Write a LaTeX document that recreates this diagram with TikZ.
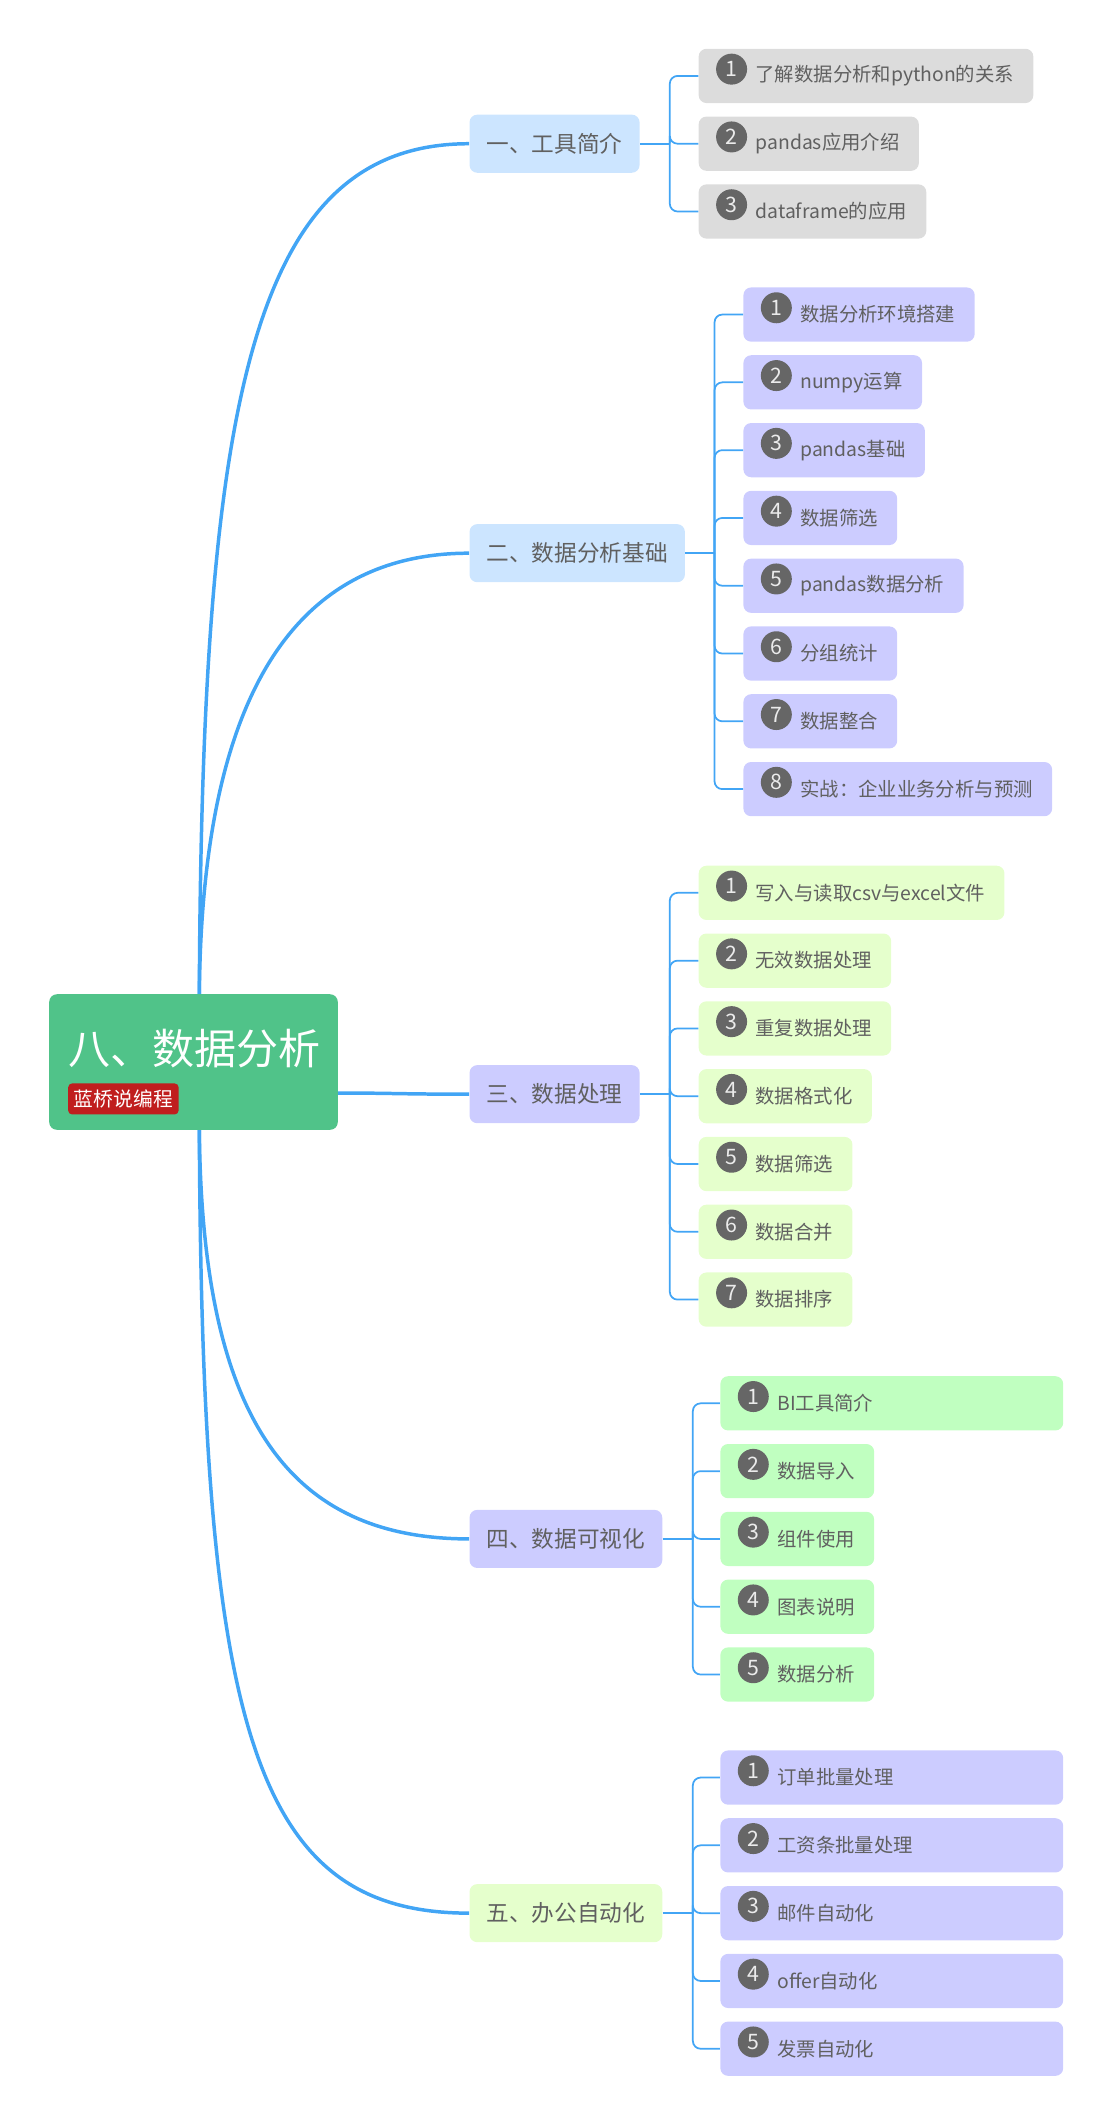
\documentclass[tikz,border=0pt]{standalone}
\usepackage{fontspec}
\setmainfont{Noto Sans CJK SC}
\usepackage{xcolor}
\usepackage{tikz}

\definecolor{linkblue}{RGB}{66,165,245}
\definecolor{rootgreen}{RGB}{80,195,137}
\definecolor{tagred}{RGB}{192,30,30}
\definecolor{txtgray}{RGB}{96,96,96}
\definecolor{numgray}{RGB}{102,102,102}
\definecolor{skyfill}{RGB}{204,229,255}
\definecolor{lilacfill}{RGB}{204,204,255}
\definecolor{limefill}{RGB}{229,255,204}
\definecolor{mintfill}{RGB}{192,255,192}
\definecolor{greyfill}{RGB}{220,220,220}

\begin{document}
\begin{tikzpicture}[
    x=0.7pt, y=-0.7pt,
    trunk/.style={draw=linkblue, line width=1.8pt},
    twig/.style={draw=linkblue, line width=0.9pt, rounded corners=4pt},
    branch/.style={rounded corners=4pt, anchor=west, minimum height=30pt, inner xsep=8.8pt, text=txtgray, font=\fontsize{11.7}{14}\selectfont},
    leaf/.style={rounded corners=4pt, anchor=west, minimum height=28pt, inner xsep=10pt, text=txtgray, font=\fontsize{10}{12}\selectfont, execute at begin node={\hspace*{19.4pt}}},
    wide/.style={text width=157pt, align=left},
    num/.style={circle, fill=numgray, text=white!92!black, inner sep=0pt, minimum size=16pt, font=\fontsize{11}{13}\selectfont},
]
\useasboundingbox (0,0) rectangle (820,1568);

% Root
\node[fill=rootgreen, rounded corners=4pt, anchor=north west, minimum width=149pt, minimum height=70pt] (root) at (36,733) {};
\node[anchor=west, text=white, inner sep=0pt, font=\fontsize{21.7}{26}\selectfont] (title) at (50,773) {八、数据分析};
\node[fill=tagred, rounded corners=2pt, anchor=west, text=white, inner xsep=3pt, inner ysep=0pt, minimum height=16pt, font=\fontsize{10.2}{12}\selectfont] (tag) at (50,810.5) {蓝桥说编程};

% Branches
\node[branch, fill=skyfill] (tools) at (346,106) {一、工具简介};
\node[branch, fill=skyfill] (basics) at (346,408) {二、数据分析基础};
\node[branch, fill=lilacfill] (clean) at (346,807) {三、数据处理};
\node[branch, fill=lilacfill] (visual) at (346,1135) {四、数据可视化};
\node[branch, fill=limefill] (office) at (346,1411) {五、办公自动化};

% Root to branches
\draw[trunk] ([xshift=3pt]root.north) .. controls +(2,-440) and +(-160,0) .. (tools.west);
\draw[trunk] ([xshift=3pt]root.north) .. controls +(2,-210) and +(-135,0) .. (basics.west);
\draw[trunk] ([yshift=-16pt]root.east) .. controls +(40,0) and +(-50,0) .. (clean.west);
\draw[trunk] ([xshift=3pt]root.south) .. controls +(2,210) and +(-135,0) .. (visual.west);
\draw[trunk] ([xshift=3pt]root.south) .. controls +(2,440) and +(-160,0) .. (office.west);

% Tools leaves
\node[leaf, fill=greyfill] (t1) at (515,56) {了解数据分析和python的关系};
\node[leaf, fill=greyfill] (t2) at (515,106) {pandas应用介绍};
\node[leaf, fill=greyfill] (t3) at (515,156) {dataframe的应用};

% Basics leaves
\node[leaf, fill=lilacfill] (b1) at (548,232) {数据分析环境搭建};
\node[leaf, fill=lilacfill] (b2) at (548,282) {numpy运算};
\node[leaf, fill=lilacfill] (b3) at (548,332) {pandas基础};
\node[leaf, fill=lilacfill] (b4) at (548,382) {数据筛选};
\node[leaf, fill=lilacfill] (b5) at (548,432) {pandas数据分析};
\node[leaf, fill=lilacfill] (b6) at (548,482) {分组统计};
\node[leaf, fill=lilacfill] (b7) at (548,532) {数据整合};
\node[leaf, fill=lilacfill] (b8) at (548,582) {实战：企业业务分析与预测};

% Cleaning leaves
\node[leaf, fill=limefill] (c1) at (515,658.5) {写入与读取csv与excel文件};
\node[leaf, fill=limefill] (c2) at (515,708.5) {无效数据处理};
\node[leaf, fill=limefill] (c3) at (515,758.5) {重复数据处理};
\node[leaf, fill=limefill] (c4) at (515,808.5) {数据格式化};
\node[leaf, fill=limefill] (c5) at (515,858.5) {数据筛选};
\node[leaf, fill=limefill] (c6) at (515,908.5) {数据合并};
\node[leaf, fill=limefill] (c7) at (515,958.5) {数据排序};

% Visual leaves
\node[leaf, wide, fill=mintfill] (v1) at (531,1035) {BI工具简介};
\node[leaf, fill=mintfill] (v2) at (531,1085) {数据导入};
\node[leaf, fill=mintfill] (v3) at (531,1135) {组件使用};
\node[leaf, fill=mintfill] (v4) at (531,1185) {图表说明};
\node[leaf, fill=mintfill] (v5) at (531,1235) {数据分析};

% Office leaves
\node[leaf, wide, fill=lilacfill] (o1) at (531,1311) {订单批量处理};
\node[leaf, wide, fill=lilacfill] (o2) at (531,1361) {工资条批量处理};
\node[leaf, wide, fill=lilacfill] (o3) at (531,1411) {邮件自动化};
\node[leaf, wide, fill=lilacfill] (o4) at (531,1461) {offer自动化};
\node[leaf, wide, fill=lilacfill] (o5) at (531,1511) {发票自动化};

% Brackets
\coordinate (tj) at (494,106);
\coordinate (bj) at (527,408);
\coordinate (cj) at (494,807);
\coordinate (vj) at (511,1135);
\coordinate (oj) at (511,1411);
\draw[twig] (tools.east) -- (tj);
\draw[twig] (basics.east) -- (bj);
\draw[twig] (clean.east) -- (cj);
\draw[twig] (visual.east) -- (vj);
\draw[twig] (office.east) -- (oj);
\foreach \n in {t1,t2,t3} \draw[twig] (tj) |- (\n.west);
\foreach \n in {b1,b2,b3,b4,b5,b6,b7,b8} \draw[twig] (bj) |- (\n.west);
\foreach \n in {c1,c2,c3,c4,c5,c6,c7} \draw[twig] (cj) |- (\n.west);
\foreach \n in {v1,v2,v3,v4,v5} \draw[twig] (vj) |- (\n.west);
\foreach \n in {o1,o2,o3,o4,o5} \draw[twig] (oj) |- (\n.west);

% Number badges
\foreach \n/\k in {t1/1,t2/2,t3/3,b1/1,b2/2,b3/3,b4/4,b5/5,b6/6,b7/7,b8/8,c1/1,c2/2,c3/3,c4/4,c5/5,c6/6,c7/7,v1/1,v2/2,v3/3,v4/4,v5/5,o1/1,o2/2,o3/3,o4/4,o5/5}
    \node[num] (n\n) at ([xshift=17.2pt, yshift=3.5pt]\n.west) {\k};

\end{tikzpicture}
\end{document}
